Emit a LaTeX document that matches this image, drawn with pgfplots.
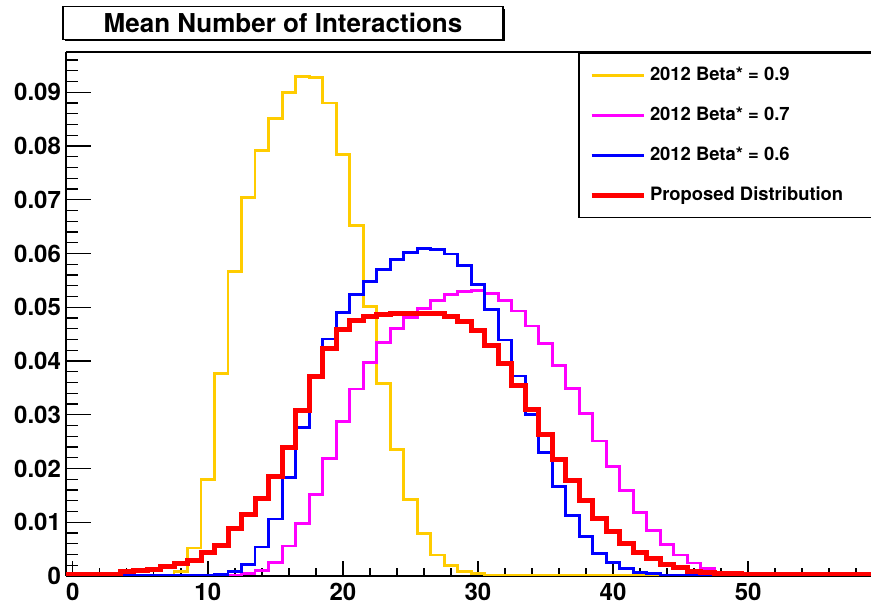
\documentclass[border=0pt]{standalone}
\usepackage{fontspec}
\setmainfont{TeX Gyre Heros}
\usepackage{pgfplots}
\usepackage{pgfplotstable}
\pgfplotsset{compat=1.18}

\definecolor{cnine}{RGB}{255,204,0}
\definecolor{cseven}{RGB}{255,0,255}
\definecolor{csix}{RGB}{0,0,255}
\definecolor{cprop}{RGB}{255,0,0}

% bin = bin centre; a = beta*0.9, b = beta*0.7, c = beta*0.6, d = proposed
\pgfplotstableread{
bin a b c d
0 0 0 0 0.0002
1 0 0 0 0.0002
2 0 0 0 0.0002
3 0 0 0 0.0002
4 0 0 0.00005 0.0009
5 0 0 0.00005 0.0010
6 0 0 0.00005 0.0013
7 0.0001 0 0.00005 0.0018
8 0.0008 0 0.00005 0.0023
9 0.0052 0 0.0001 0.0029
10 0.0180 0 0.0001 0.0043
11 0.0377 0.00005 0.0003 0.0056
12 0.0567 0.0001 0.0008 0.0089
13 0.0704 0.0004 0.0022 0.0115
14 0.0791 0.0010 0.0054 0.0144
15 0.0851 0.0025 0.0106 0.0186
16 0.0899 0.0056 0.0183 0.0240
17 0.0929 0.0098 0.0277 0.0307
18 0.0927 0.0152 0.0369 0.0372
19 0.0880 0.0219 0.0441 0.0424
20 0.0784 0.0287 0.0491 0.0459
21 0.0652 0.0348 0.0524 0.0476
22 0.0502 0.0397 0.0548 0.0483
23 0.0358 0.0434 0.0570 0.0487
24 0.0236 0.0460 0.0589 0.0488
25 0.0143 0.0481 0.0602 0.0489
26 0.0079 0.0497 0.0610 0.0489
27 0.0039 0.0512 0.0608 0.0488
28 0.0019 0.0524 0.0599 0.0483
29 0.0008 0.0529 0.0578 0.0473
30 0.0004 0.0531 0.0543 0.0456
31 0.0002 0.0526 0.0496 0.0429
32 0.0001 0.0512 0.0439 0.0395
33 0.00005 0.0493 0.0372 0.0355
34 0.00005 0.0465 0.0301 0.0310
35 0.00005 0.0432 0.0230 0.0264
36 0.00005 0.0392 0.0166 0.0217
37 0.00005 0.0349 0.0113 0.0177
38 0.00005 0.0302 0.0073 0.0140
39 0.00005 0.0251 0.0042 0.0107
40 0.00005 0.0203 0.0025 0.0082
41 0.00005 0.0159 0.0014 0.0061
42 0.00005 0.0118 0.0007 0.0044
43 0.00005 0.0084 0.0004 0.0032
44 0 0.0058 0.0002 0.0022
45 0 0.0039 0.0001 0.0015
46 0 0.0024 0.00005 0.0009
47 0 0.0014 0.00005 0.0006
48 0 0.0007 0.00005 0.0005
49 0 0.0005 0 0.0004
50 0 0.0002 0 0.0003
51 0 0.0001 0 0.0002
52 0 0.00005 0 0.0002
53 0 0 0 0.0002
54 0 0 0 0.0002
55 0 0 0 0.0002
56 0 0 0 0.0002
57 0 0 0 0.0002
58 0 0 0 0.0002
59 0 0 0 0.0002
60 0 0 0 0.0002
}\hist

\begin{document}
\begin{tikzpicture}
\useasboundingbox (-33pt,-13.5pt) rectangle (402.5pt,288pt);
\begin{axis}[scale only axis,width=402.5pt,height=262pt,
  xmin=-0.5,xmax=59.1,ymin=0,ymax=0.0975,
  axis x line=box,axis y line=left,
  axis line style={-,line width=0.7pt},
  every outer x axis line/.append style={-},every outer y axis line/.append style={-},
  xtick pos=bottom,ytick pos=left,tick align=inside,
  tick style={black,line width=0.7pt},
  major tick length=12.5pt,minor tick length=6pt,
  major x tick style={/pgfplots/major tick length=7.5pt},
  minor x tick style={/pgfplots/minor tick length=3.8pt},
  xtick={0,10,20,30,40,50},minor xtick={2,4,...,58},
  ytick={0,0.01,0.02,0.03,0.04,0.05,0.06,0.07,0.08,0.09},
  yticklabels={0,0.01,0.02,0.03,0.04,0.05,0.06,0.07,0.08,0.09},
  minor ytick={0.002,0.004,...,0.097},
  /pgf/number format/assume math mode=true,
  ticklabel style={font=\bfseries\fontsize{12}{14}\selectfont},
  yticklabel style={xshift=1pt},
  legend style={at={(0.6364,0.998)},anchor=north west,draw=black,line width=0.7pt,fill=white,
    font=\bfseries\fontsize{9.2}{11}\selectfont,inner xsep=5pt,inner ysep=4.5pt,row sep=7.2pt,
    nodes={text height=6.8pt,text depth=2pt}},
  legend cell align=left,
  legend image code/.code={\draw[#1] (0pt,0pt)--(26pt,0pt);}]
\addplot[const plot mark left,cnine,line width=1.4pt] table[x expr=\thisrow{bin}-0.5,y=a] {\hist};
\addlegendentry{\makebox[112pt][l]{2012 Beta* = 0.9}}
\addplot[const plot mark left,cseven,line width=1.4pt] table[x expr=\thisrow{bin}-0.5,y=b] {\hist};
\addlegendentry{\makebox[112pt][l]{2012 Beta* = 0.7}}
\addplot[const plot mark left,csix,line width=1.4pt] table[x expr=\thisrow{bin}-0.5,y=c] {\hist};
\addlegendentry{\makebox[112pt][l]{2012 Beta* = 0.6}}
\addplot[const plot mark left,cprop,line width=2.5pt] table[x expr=\thisrow{bin}-0.5,y=d] {\hist};
\addlegendentry{\makebox[112pt][l]{Proposed Distribution}}
\end{axis}
% title box with shadow
\fill[black] (-0.5pt,267.4pt) rectangle (219.5pt,283.7pt);
\node[draw=black,line width=0.6pt,fill=white,minimum width=220pt,minimum height=16.3pt,inner sep=0pt,
  font=\bfseries\fontsize{13}{15}\selectfont] at (108.5pt,276.5pt) {Mean Number of Interactions};
\end{tikzpicture}
\end{document}
